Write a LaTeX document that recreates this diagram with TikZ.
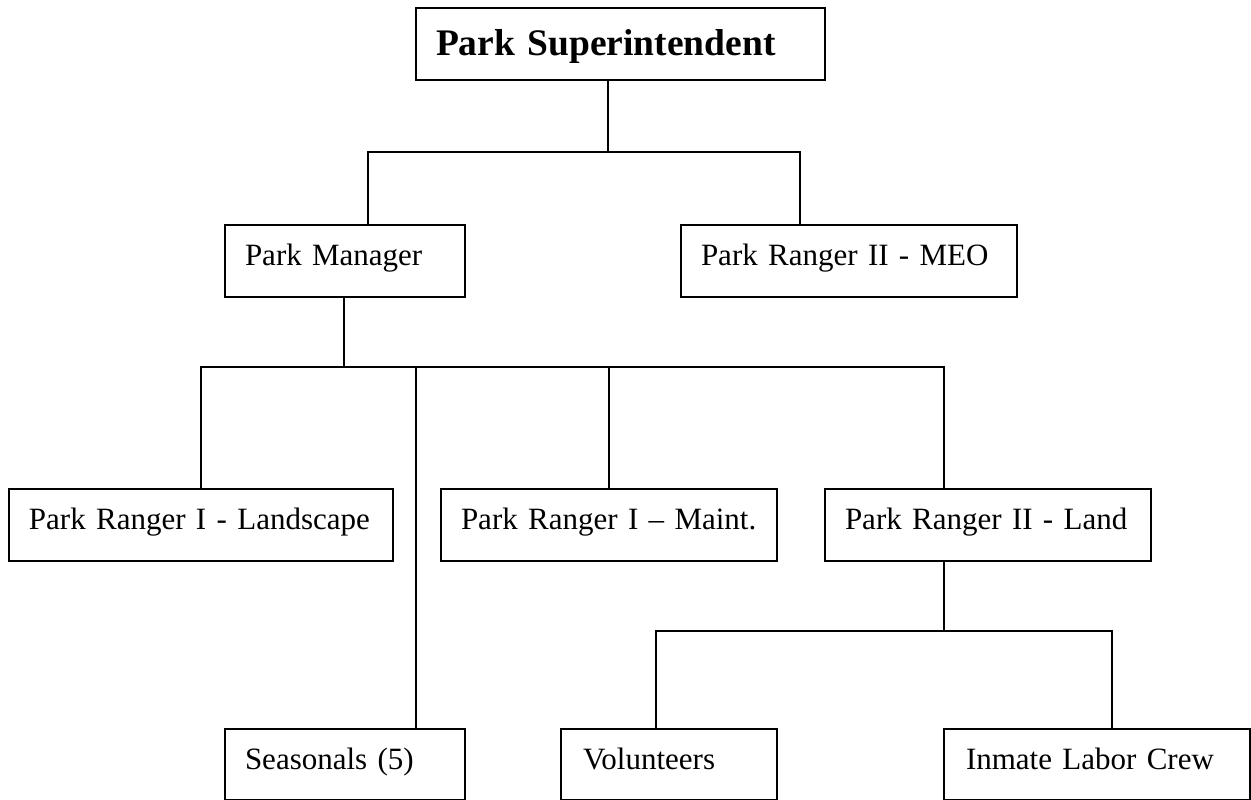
\documentclass[tikz,border=0pt]{standalone}
\usepackage{fontspec}
\setmainfont{Liberation Serif}
\newcommand{\padl}[1]{\mbox{\hspace*{20pt}#1}}
\begin{document}
\begin{tikzpicture}[x=1pt,y=-1pt,
  box/.style={draw, line width=2pt, anchor=north west, inner xsep=0pt, inner ysep=0pt,
    align=left, font=\fontsize{31}{36}\selectfont, text height=40pt},
  conn/.style={line width=2pt}]
\useasboundingbox (0,0) rectangle (1251,800);
\node[box, text width=409pt, minimum width=409pt, minimum height=72pt, text depth=24pt,
  text height=48pt, font=\fontsize{37.5}{40}\bfseries\selectfont] (sup) at (415,7) {\padl{Park Superintendent}};
\node[box, text width=240pt, minimum width=240pt, minimum height=72pt, text depth=32pt] (mgr) at (224,224) {\padl{Park Manager}};
\node[box, text width=336pt, minimum width=336pt, minimum height=72pt, text depth=32pt] (meo) at (680,224) {\padl{Park Ranger II - MEO}};
\node[box, text width=384pt, minimum width=384pt, minimum height=72pt, text depth=32pt] (land1) at (8,488) {\padl{Park Ranger I - Landscape}};
\node[box, text width=336pt, minimum width=336pt, minimum height=72pt, text depth=32pt] (maint) at (440,488) {\padl{Park Ranger I – Maint.}};
\node[box, text width=326pt, minimum width=326pt, minimum height=72pt, text depth=32pt] (land2) at (824,488) {\padl{Park Ranger II - Land}};
\node[box, text width=240pt, minimum width=240pt, minimum height=71pt, text depth=31pt] (seas) at (224,728) {\padl{Seasonals (5)}};
\node[box, text width=216pt, minimum width=216pt, minimum height=71pt, text depth=31pt] (vol) at (560,728) {\mbox{\hspace*{22pt}Volunteers}};
\node[box, text width=306pt, minimum width=306pt, minimum height=71pt, text depth=31pt] (inm) at (943,728) {\mbox{\hspace*{22pt}Inmate Labor Crew}};
% bus coordinates
\coordinate (b1) at (608,152);
\coordinate (c368) at (368,152);
\coordinate (c800) at (800,152);
\coordinate (b2) at (344,367);
\coordinate (c416) at (416,367);
\coordinate (c944) at (944,367);
\coordinate (b3) at (944,631);
\coordinate (c656) at (656,631);
\coordinate (c1112) at (1112,631);
% connectors
\draw[conn] (sup.south -| b1) -- (b1);
\draw[conn] (mgr.north -| c368) -- (c368) -- (c800) -- (meo.north -| c800);
\draw[conn] (mgr.south -| b2) -- (b2);
\draw[conn] (land1.north) -- (land1.north |- b2) -- (c944) -- (land2.north -| c944);
\draw[conn] (maint.north) -- (maint.north |- b2);
\draw[conn] (seas.north -| c416) -- (c416);
\draw[conn] (land2.south -| b3) -- (b3);
\draw[conn] (vol.north -| c656) -- (c656) -- (c1112) -- (inm.north -| c1112);
\end{tikzpicture}
\end{document}
